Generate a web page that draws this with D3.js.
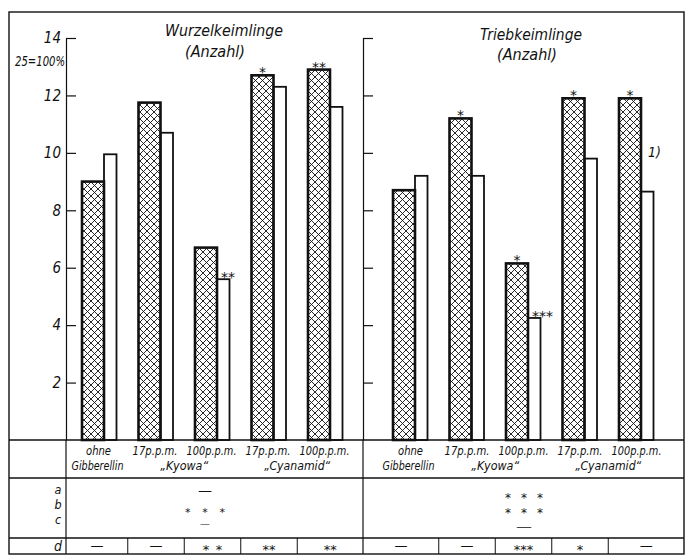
<!DOCTYPE html>
<html>
<head>
<meta charset="utf-8">
<script src="https://cdn.jsdelivr.net/npm/d3@7"></script>
<style>
  body { margin: 0; background: #fff; }
  svg { display: block; }
  text { font-family: "DejaVu Sans Condensed", "DejaVu Sans", sans-serif; font-style: italic; fill: #111; }
  .sig { font-family: "DejaVu Sans", sans-serif; font-style: normal; }
</style>
</head>
<body>
<svg id="chart" width="688" height="557"></svg>
<script>
// Treatments (one bar pair per treatment)
const categories = ["ohne", "17 Kyowa", "100 Kyowa", "17 Cyanamid", "100 Cyanamid"];
const doseLabels = ["ohne", "17p.p.m.", "100p.p.m.", "17p.p.m.", "100p.p.m."];
const productLabels = ["Gibberellin", "„Kyowa“", "„Cyanamid“"];
const productSpans = [[0, 0], [1, 2], [3, 4]];

// Root-germinating seedlings (count, 25 = 100 %)
const wurzelHatched = [9.0, 11.75, 6.7, 12.7, 12.9];
const wurzelOpen    = [9.95, 10.7, 5.6, 12.3, 11.6];
const wurzelHatchedSig = ["", "", "", "*", "**"];
const wurzelOpenSig    = ["", "", "**", "", ""];

// Shoot-germinating seedlings (count)
const triebHatched = [8.7, 11.2, 6.15, 11.9, 11.9];
const triebOpen    = [9.2, 9.2, 4.25, 9.8, 8.65];
const triebHatchedSig = ["", "*", "*", "*", "*"];
const triebOpenSig    = ["", "", "***", "", ""];

// Significance table rows
const rowLetters = ["a", "b", "c"];
const wurzelRows = ["—", "* * *", "—"];
const triebRows  = ["* * *", "* * *", "—"];
const wurzelD = ["—", "—", "* *", "**", "**"];
const triebD  = ["—", "—", "***", "*", "—"];

const yTicks = [2, 4, 6, 8, 10, 12, 14];

const svg = d3.select("#chart");
const spaced = s => s.replace(/ /g, "\u2002");

const frame = { left: 9, top: 12, right: 684, bottom: 554 };
const axisX = 66, dividerX = 363;
const rowY = { base: 440, labels: 478, d: 538 };

const y = d3.scaleLinear().domain([0, 14]).range([440, 38]);

// Cross-hatch fill
const defs = svg.append("defs");
defs.append("pattern")
  .attr("id", "xhatch").attr("patternUnits", "userSpaceOnUse")
  .attr("width", 7).attr("height", 7)
  .append("path")
  .attr("d", "M0,0L7,7M0,7L7,0M-1,1L1,-1M6,8L8,6M-1,6L1,8M6,-1L8,1")
  .attr("stroke", "#111").attr("stroke-width", 0.9);

// Outer frame
svg.append("rect")
  .attr("x", frame.left).attr("y", frame.top)
  .attr("width", frame.right - frame.left).attr("height", frame.bottom - frame.top)
  .attr("fill", "none").attr("stroke", "#111").attr("stroke-width", 1.4);

// Per-row cell styles in the a/b/c block: [baseline, font size, text length]
const panels = [
  { x0: axisX, x1: dividerX, cx: [99.5, 325.5], title: ["Wurzelkeimlinge", "(Anzahl)"],
    titleX: [224, 215], titleY: [36, 57], titleW: [118, 60],
    hatched: wurzelHatched, open: wurzelOpen, hSig: wurzelHatchedSig, oSig: wurzelOpenSig,
    rows: wurzelRows, rowX: 205, rowStyle: [[494.5, 12, 14], [516, 11, 40], [526.5, 8, 10]],
    d: wurzelD, labels: true },
  { x0: dividerX, x1: frame.right, cx: [410.5, 636.5], title: ["Triebkeimlinge", "(Anzahl)"],
    titleX: [531, 527], titleY: [40, 60], titleW: [102, 60],
    hatched: triebHatched, open: triebOpen, hSig: triebHatchedSig, oSig: triebOpenSig,
    rows: triebRows, rowX: 524, rowStyle: [[501.5, 12, 38], [516.5, 12, 38], [530, 10, 16]],
    d: triebD, labels: false }
];

const hatchW = 22, openW = 12.5, offs = 17.5;

panels.forEach((p, pi) => {
  const x = d3.scalePoint().domain(categories).range(p.cx);
  const g = svg.append("g");

  // Axis with inward ticks
  const axis = d3.axisLeft(y).tickValues(yTicks).tickSize(-10).tickSizeOuter(0).tickPadding(5)
    .tickFormat(p.labels ? d3.format("d") : "");
  const ag = g.append("g").attr("transform", `translate(${p.x0},0)`).call(axis);
  ag.selectAll("path, line").attr("stroke", "#111").attr("stroke-width", 1.2);
  ag.selectAll("text").attr("font-size", 15).attr("font-family", null).attr("fill", "#111");

  // Titles
  p.title.forEach((t, i) => {
    g.append("text").attr("x", p.titleX[i]).attr("y", p.titleY[i])
      .attr("text-anchor", "middle").attr("font-size", 16)
      .attr("textLength", p.titleW[i]).attr("lengthAdjust", "spacingAndGlyphs")
      .text(t);
  });

  // Open bars
  g.selectAll(".open").data(categories).join("rect")
    .attr("x", d => x(d) - offs + hatchW).attr("width", openW)
    .attr("y", (d, i) => y(p.open[i])).attr("height", (d, i) => y(0) - y(p.open[i]))
    .attr("fill", "#fff").attr("stroke", "#111").attr("stroke-width", 1.8);

  // Hatched bars
  g.selectAll(".hatch").data(categories).join("rect")
    .attr("x", d => x(d) - offs).attr("width", hatchW)
    .attr("y", (d, i) => y(p.hatched[i])).attr("height", (d, i) => y(0) - y(p.hatched[i]))
    .attr("fill", "url(#xhatch)").attr("stroke", "#111").attr("stroke-width", 2.6);

  // Significance marks above bars
  g.selectAll(".hsig").data(categories).join("text").attr("class", "sig")
    .attr("x", d => x(d) - offs + hatchW / 2)
    .attr("y", (d, i) => y(p.hatched[i]) + 2)
    .attr("text-anchor", "middle").attr("font-size", 14)
    .text((d, i) => p.hSig[i]);
  g.selectAll(".osig").data(categories).join("text").attr("class", "sig")
    .attr("x", d => x(d) - offs + hatchW + 4)
    .attr("y", (d, i) => y(p.open[i]) + 3)
    .attr("text-anchor", "start").attr("font-size", 14)
    .text((d, i) => p.oSig[i]);

  // Treatment labels
  g.selectAll(".dose").data(categories).join("text")
    .attr("x", d => x(d) + (pi === 0 ? -1 : 0)).attr("y", 455)
    .attr("text-anchor", "middle").attr("font-size", 13)
    .attr("textLength", (d, i) => i === 0 ? 25 : (doseLabels[i].length > 8 ? 50 : 45))
    .attr("lengthAdjust", "spacingAndGlyphs")
    .text((d, i) => doseLabels[i]);
  productLabels.forEach((t, i) => {
    const [a, b] = productSpans[i];
    const cx = (x(categories[a]) + x(categories[b])) / 2 - (i === 0 ? 2 : 0);
    g.append("text").attr("x", cx).attr("y", 470)
      .attr("text-anchor", "middle").attr("font-size", 13)
      .attr("textLength", i === 0 ? 52 : (i === 1 ? 48 : 66)).attr("lengthAdjust", "spacingAndGlyphs")
      .text(t);
  });

  // a/b/c rows
  p.rows.forEach((t, i) => {
    const [yy, fs, len] = p.rowStyle[i];
    const isDash = !t.includes("*");
    g.append("text").attr("class", "sig").attr("x", p.rowX).attr("y", yy)
      .attr("text-anchor", "middle").attr("font-size", fs)
      .attr("textLength", len)
      .attr("lengthAdjust", isDash ? "spacingAndGlyphs" : "spacing")
      .text(spaced(t));
  });

  // d row cells
  const cx = categories.map(x);
  const bounds = [p.x0];
  for (let i = 1; i < cx.length; i++) bounds.push((cx[i - 1] + cx[i]) / 2);
  bounds.push(p.x1);
  bounds.slice(1, -1).forEach(b => {
    svg.append("line").attr("x1", b).attr("x2", b).attr("y1", rowY.d).attr("y2", frame.bottom)
      .attr("stroke", "#111").attr("stroke-width", 1);
  });
  p.d.forEach((t, i) => {
    g.append("text").attr("class", "sig").attr("x", (bounds[i] + bounds[i + 1]) / 2)
      .attr("y", t.includes("*") ? 554 : 550)
      .attr("text-anchor", "middle").attr("font-size", 13)
      .text(spaced(t));
  });
});

// Footnote marker on the shoot panel
svg.append("text").attr("x", 648).attr("y", y(9.85)).attr("font-size", 14).text("1)");

// Y-axis unit note
svg.append("text").attr("x", 65).attr("y", 66).attr("text-anchor", "end").attr("font-size", 14)
  .attr("textLength", 50).attr("lengthAdjust", "spacingAndGlyphs").text("25=100%");

// Table rules
[rowY.base, rowY.labels, rowY.d].forEach(yy => {
  svg.append("line").attr("x1", frame.left).attr("x2", frame.right).attr("y1", yy).attr("y2", yy)
    .attr("stroke", "#111").attr("stroke-width", 1.3);
});
svg.append("line").attr("x1", axisX).attr("x2", axisX).attr("y1", y(0)).attr("y2", frame.bottom)
  .attr("stroke", "#111").attr("stroke-width", 1.2);
svg.append("line").attr("x1", dividerX).attr("x2", dividerX).attr("y1", y(0)).attr("y2", frame.bottom)
  .attr("stroke", "#111").attr("stroke-width", 1.2);

// Row letters
const letters = svg.append("text").attr("font-size", 12.5)
  .attr("font-family", "'DejaVu Serif', serif").attr("text-anchor", "middle");
[494, 509, 524].forEach((yy, i) => {
  letters.append("tspan").attr("x", 58).attr("y", yy).text(rowLetters[i]);
});
svg.append("text").attr("x", 58).attr("y", 551).attr("text-anchor", "middle")
  .attr("font-size", 14).attr("font-family", "'DejaVu Serif', serif").text("d");
</script>
</body>
</html>
